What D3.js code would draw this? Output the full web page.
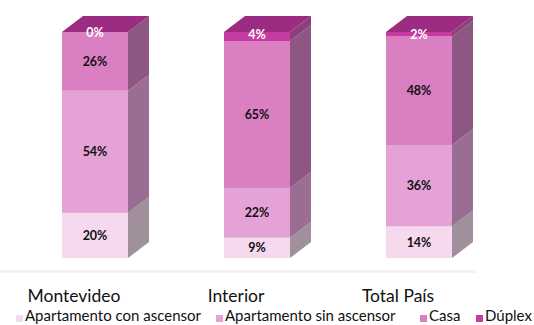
<!DOCTYPE html>
<html>
<head>
<meta charset="utf-8">
<script src="https://cdn.jsdelivr.net/npm/d3@7"></script>
<style>
  body { margin: 0; background: #fff; }
  svg { display: block; }
</style>
</head>
<body>
<div id="chart"></div>
<script>
var categories = ["Montevideo", "Interior", "Total País"];
var seriesNames = ["Apartamento con ascensor", "Apartamento sin ascensor", "Casa", "Dúplex"];
var conAscensor = [20, 9, 14];
var sinAscensor = [54, 22, 36];
var casa = [26, 65, 48];
var duplex = [0, 4, 2];

var frontColors = ["#f6d9ee", "#e4a2d6", "#da7fc2", "#c53ba2"];
var sideColors = ["#a0909c", "#9a6d92", "#8e5783", "#8a3e7c"];
var topColor = "#9c2c82";

createChart("#chart", 534, 325);

function createChart(eleDiv, w, h) {
    var depthX = 21, depthY = 16, barW = 66;

    var rows = categories.map(function (c, i) {
        return { cat: c, values: [conAscensor[i], sinAscensor[i], casa[i], duplex[i]] };
    });

    // setup x / y
    var xScale = d3.scalePoint().domain(categories).range([95, 419]);
    var yScale = d3.scaleLinear().domain([0, 100]).range([258, 32]);

    var svg = d3.select(eleDiv).append("svg")
        .attr("width", w)
        .attr("height", h);

    // floor line
    svg.append("rect")
        .attr("x", 0).attr("y", 270)
        .attr("width", 476).attr("height", 3)
        .attr("fill", "#f3f3f3");

    var bars = svg.selectAll(".bar")
        .data(rows)
        .enter().append("g")
        .attr("class", "bar");

    bars.each(function (d) {
        var g = d3.select(this);
        var x0 = xScale(d.cat) - barW / 2, x1 = x0 + barW;
        var acc = 0;
        d.values.forEach(function (v, k) {
            var yb = yScale(acc), yt = yScale(acc + v);
            acc += v;
            // side face
            g.append("polygon")
                .attr("points", [[x1, yb], [x1, yt], [x1 + depthX, yt - depthY], [x1 + depthX, yb - depthY]].join(" "))
                .attr("fill", sideColors[k]);
            // front face
            g.append("rect")
                .attr("x", x0).attr("y", yt)
                .attr("width", barW).attr("height", yb - yt)
                .attr("fill", frontColors[k]);
        });
        var top = yScale(acc);
        g.append("polygon")
            .attr("points", [[x0, top], [x1, top], [x1 + depthX, top - depthY], [x0 + depthX, top - depthY]].join(" "))
            .attr("fill", topColor);

        // labels
        acc = 0;
        d.values.forEach(function (v, k) {
            var yc = yScale(acc + v / 2);
            acc += v;
            g.append("text")
                .attr("x", xScale(d.cat))
                .attr("y", k === 3 ? Math.min(yc + 1, top + 3) : yc)
                .attr("dy", "0.35em")
                .attr("text-anchor", "middle")
                .style("font", "bold 12.5px Lato, sans-serif")
                .attr("fill", k === 3 ? "#fff" : "#111")
                .text(v + "%");
        });
    });

    // category labels
    svg.selectAll(".catLabel")
        .data(categories)
        .enter().append("text")
        .attr("class", "catLabel")
        .attr("x", function (d) { return xScale(d) - 21; })
        .attr("y", 302)
        .attr("text-anchor", "middle")
        .style("font", "17.5px Lato, sans-serif")
        .attr("fill", "#111")
        .text(function (d) { return d; });

    // legend
    var legendX = [16, 216, 420, 476];
    var legend = svg.selectAll(".legend")
        .data(seriesNames)
        .enter().append("g")
        .attr("class", "legend")
        .attr("transform", function (d, i) { return "translate(" + legendX[i] + ",314)"; });
    legend.append("rect")
        .attr("y", 1)
        .attr("width", 7).attr("height", 7)
        .attr("fill", function (d, i) { return frontColors[i]; });
    legend.append("text")
        .attr("x", 9).attr("y", 7)
        .style("font", "15px Lato, sans-serif")
        .attr("fill", "#111")
        .text(function (d) { return d; });
}
</script>
</body>
</html>
